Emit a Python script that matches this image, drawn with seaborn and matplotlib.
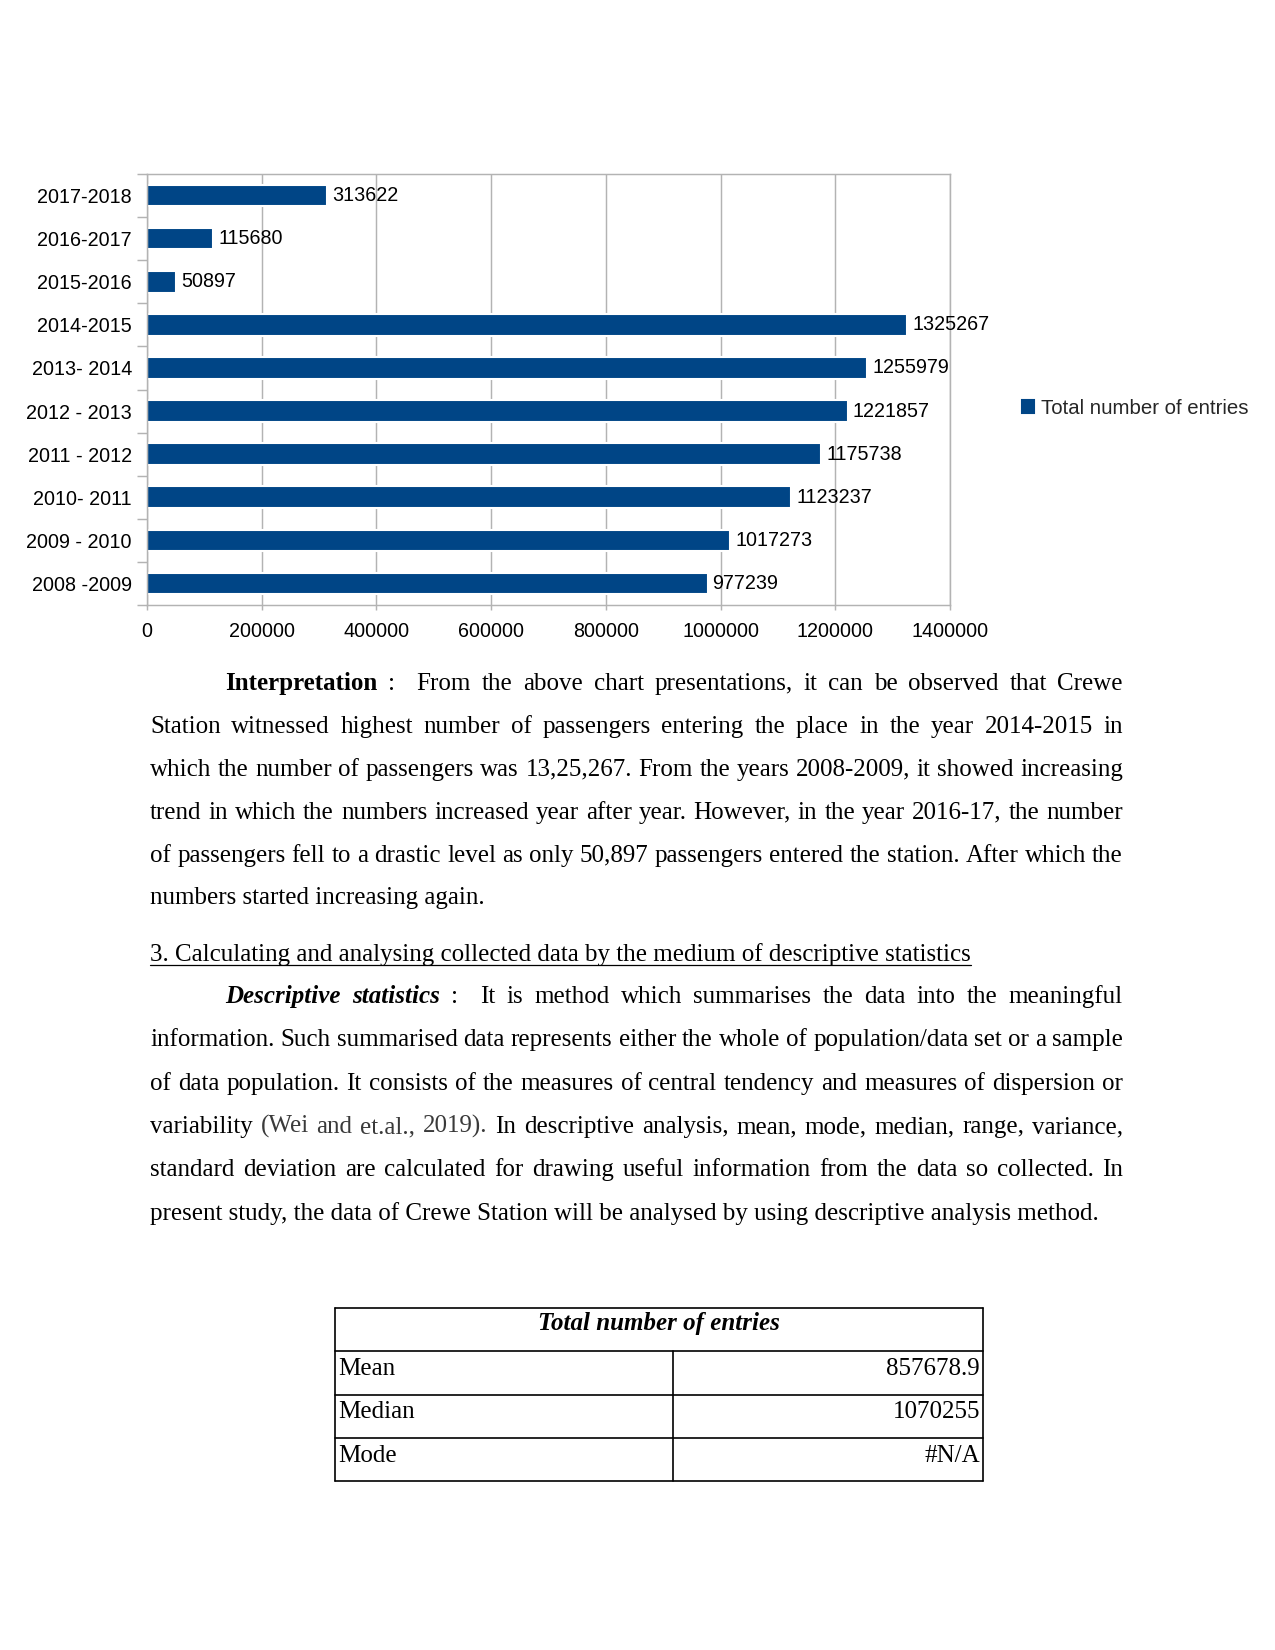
import numpy as np
import pandas as pd
import matplotlib
matplotlib.use("Agg")
import matplotlib.pyplot as plt
import seaborn as sns
from matplotlib.patches import Patch
from matplotlib.lines import Line2D

# ---------------- data ----------------
periods = ["2017-2018", "2016-2017", "2015-2016", "2014-2015", "2013- 2014",
           "2012 - 2013", "2011 - 2012", "2010- 2011", "2009 - 2010", "2008 -2009"]
entries = [313622, 115680, 50897, 1325267, 1255979, 1221857, 1175738, 1123237,
           1017273, 977239]
series_name = "Total number of entries"
x_ticks = [0, 200000, 400000, 600000, 800000, 1000000, 1200000, 1400000]

table_title = "Total number of entries"
table_rows = ["Mean", "Median", "Mode"]
table_values = ["857678.9", "1070255", "#N/A"]

p1_lines = [
    [("Interpretation", "b"), (":", "n"), ("From", "n"), ("the", "n"), ("above", "n"), ("chart", "n"),
     ("presentations,", "n"), ("it", "n"), ("can", "n"), ("be", "n"), ("observed", "n"), ("that", "n"), ("Crewe", "n")],
    "Station witnessed highest number of passengers entering the place in the year 2014-2015 in",
    "which the number of passengers was 13,25,267. From the years 2008-2009, it showed increasing",
    "trend in which the numbers increased year after year. However, in the year 2016-17, the number",
    "of passengers fell to a drastic level as only 50,897 passengers entered the station. After which the",
]
p1_last = "numbers started increasing again."
heading = "3. Calculating and analysing collected data by the medium of descriptive statistics"
p2_lines = [
    [("Descriptive", "bi"), ("statistics", "bi"), (":", "n"), ("It", "n"), ("is", "n"), ("method", "n"),
     ("which", "n"), ("summarises", "n"), ("the", "n"), ("data", "n"), ("into", "n"), ("the", "n"), ("meaningful", "n")],
    "information. Such summarised data represents either the whole of population/data set or a sample",
    "of data population. It consists of the measures of central tendency and measures of dispersion or",
    [("variability", "n"), ("(Wei", "g"), ("and", "g"), ("et.al.,", "g"), ("2019).", "g"), ("In", "n"),
     ("descriptive", "n"), ("analysis,", "n"), ("mean,", "n"), ("mode,", "n"), ("median,", "n"),
     ("range,", "n"), ("variance,", "n")],
    "standard deviation are calculated for drawing useful information from the data so collected. In",
]
p2_last = "present study, the data of Crewe Station will be analysed by using descriptive analysis method."

# ---------------- figure ----------------
W, H, DPI = 1275, 1650, 150
sns.set_style("white")
plt.rcParams["font.family"] = ["Liberation Sans", "DejaVu Sans"]
fig = plt.figure(figsize=(W / DPI, H / DPI), dpi=DPI)
fig.patch.set_facecolor("white")

BAR = "#004586"
GRID = "#b3b3b3"
CFS = 9.5

ax = fig.add_axes([147 / W, 1 - 605 / H, 803 / W, 431 / H])
df = pd.DataFrame({"Period": periods, "Entries": entries})
sns.barplot(data=df, x="Entries", y="Period", orient="h", color=BAR, saturation=1,
            width=0.5, ax=ax)
ax.set_xlim(0, 1400000)
ax.set_ylim(len(periods) - 0.5, -0.5)
ax.set_xticks(x_ticks)
ax.set_xticklabels([str(t) for t in x_ticks])
ax.set_xlabel("")
ax.set_ylabel("")
ax.set_axisbelow(True)
ax.xaxis.grid(True, color=GRID, lw=0.7)
ax.yaxis.grid(False)
for s in ax.spines.values():
    s.set_visible(True)
    s.set_color(GRID)
    s.set_linewidth(0.7)
ax.tick_params(axis="x", bottom=True, length=2.5, width=0.7, color=GRID, pad=5.5,
               labelsize=CFS, labelcolor="black")
ax.tick_params(axis="y", which="major", left=True, length=0, pad=7.2, labelsize=CFS,
               labelcolor="black")
ax.set_yticks(np.arange(-0.5, len(periods) + 0.5, 1.0), minor=True)
ax.tick_params(axis="y", which="minor", left=True, length=4.8, width=0.7, color=GRID)
ax.bar_label(ax.containers[0], labels=[str(v) for v in entries], padding=2.4,
             fontsize=CFS, color="black")

fig.legend(handles=[Patch(facecolor=BAR, edgecolor=BAR, label=series_name)],
           loc="center left", bbox_to_anchor=(1022 / W, 1 - 408 / H), frameon=False,
           handlelength=0.6, handleheight=0.6, handletextpad=0.35, borderpad=0,
           borderaxespad=0, fontsize=9.8)

# ---------------- body text ----------------
SERIF = ["Liberation Serif", "DejaVu Serif"]
BFS = 12.0
renderer = fig.canvas.get_renderer()
STY = {
    "n": dict(fontweight="normal", fontstyle="normal", color="black"),
    "b": dict(fontweight="bold", fontstyle="normal", color="black"),
    "bi": dict(fontweight="bold", fontstyle="italic", color="black"),
    "g": dict(fontweight="normal", fontstyle="normal", color="#3a3a3a"),
}


def px(x, y):
    return x / W, 1 - y / H


def put(x, y, s, sty="n", **kw):
    t = fig.text(*px(x, y), s, family=SERIF, fontsize=kw.pop("fs", BFS), va="baseline", **STY[sty], **kw)
    return t


def justify(tokens, x0, x1, y):
    if isinstance(tokens, str):
        tokens = [(w, "n") for w in tokens.split()]
    texts = [put(0, y, w, st) for w, st in tokens]
    widths = [t.get_window_extent(renderer=renderer).width for t in texts]
    # a colon is followed by two spaces, so its gap counts double
    weights = [2.0 if w == ":" else 1.0 for w, _ in tokens[:-1]]
    unit = (x1 - x0 - sum(widths)) / sum(weights)
    x = x0
    for i, (t, w) in enumerate(zip(texts, widths)):
        t.set_position(px(x, y))
        if i < len(weights):
            x += w + unit * weights[i]


LEFT, RIGHT, INDENT = 150, 1123, 225
y = 690
for i, ln in enumerate(p1_lines):
    justify(ln, INDENT if i == 0 else LEFT, RIGHT, y)
    y += 42.9
put(LEFT, y, p1_last)

hy = 961
ht = put(LEFT, hy, heading)
hw = ht.get_window_extent(renderer=renderer).width
fig.add_artist(Line2D([LEFT / W, (LEFT + hw) / W], [1 - (hy + 4) / H] * 2, color="black", lw=0.6))

y = 1003
for i, ln in enumerate(p2_lines):
    justify(ln, INDENT if i == 0 else LEFT, RIGHT, y)
    y += 43.35
put(LEFT, y, p2_last)

# ---------------- table ----------------
TL, TR, TM = 335, 983, 673
rows_y = [1308, 1351, 1395, 1438, 1481]
lw = 0.8
for ry in rows_y:
    fig.add_artist(Line2D([TL / W, TR / W], [1 - ry / H] * 2, color="black", lw=lw))
fig.add_artist(Line2D([TL / W, TL / W], [1 - rows_y[0] / H, 1 - rows_y[-1] / H], color="black", lw=lw))
fig.add_artist(Line2D([TR / W, TR / W], [1 - rows_y[0] / H, 1 - rows_y[-1] / H], color="black", lw=lw))
fig.add_artist(Line2D([TM / W, TM / W], [1 - rows_y[1] / H, 1 - rows_y[-1] / H], color="black", lw=lw))
put((TL + TR) / 2, 1330, table_title, "bi", ha="center")
for i, (lab, val) in enumerate(zip(table_rows, table_values)):
    by = 1375 + i * 43.3
    put(TL + 3, by, lab)
    put(TR - 3, by, val, ha="right")

fig.savefig("out.png", dpi=DPI, facecolor="white")
